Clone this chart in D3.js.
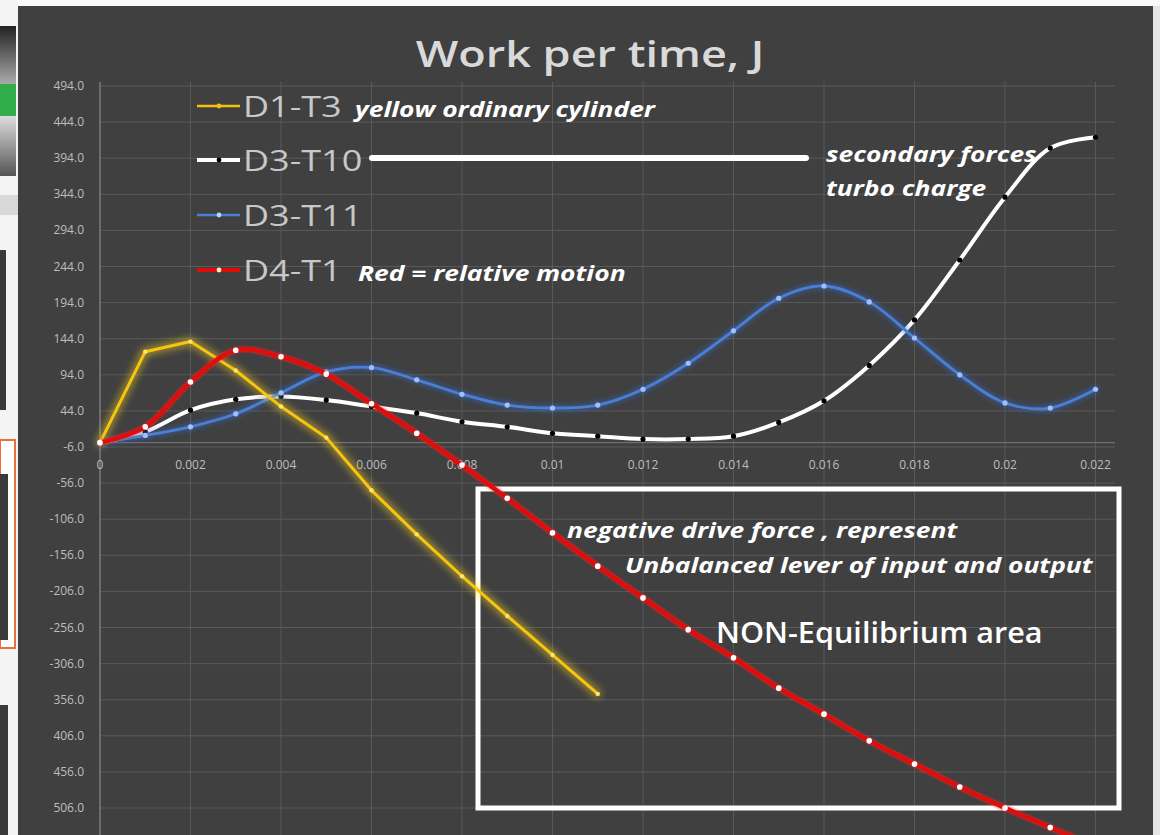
<!DOCTYPE html>
<html>
<head>
<meta charset="utf-8">
<script src="https://cdn.jsdelivr.net/npm/d3@7"></script>
<style>
  body { margin: 0; background: #f2f2f2; }
  svg { display: block; }
</style>
</head>
<body>
<div id="graph"></div>
<script>
// Données
const timeSteps = [0, 0.001, 0.002, 0.003, 0.004, 0.005, 0.006, 0.007, 0.008, 0.009, 0.010,
  0.011, 0.012, 0.013, 0.014, 0.015, 0.016, 0.017, 0.018, 0.019, 0.020, 0.021, 0.022];

const d1t3 = [0, 126, 140, 100, 50, 7, -66, -127, -185, -240, -294, -348];
const d3t10 = [0, 15, 45, 60, 64, 59, 50, 41, 29, 22, 13, 9, 5, 5, 9, 28, 58, 107, 170, 253, 340, 408, 423];
const d3t11 = [0, 10, 22, 40, 69, 98, 104, 87, 67, 52, 48, 52, 74, 110, 155, 200, 217, 195, 145, 94, 55, 48, 74];
const d4t1 = [0, 22, 84, 128, 119, 95, 54, 13, -31, -77, -125, -171, -215, -259, -298, -340, -376, -413, -445, -477, -506, -533, -560];

const seriesNames = ["D1-T3", "D3-T10", "D3-T11", "D4-T1"];

const yTicks = [494, 444, 394, 344, 294, 244, 194, 144, 94, 44, -6, -56, -106, -156, -206, -256, -306, -356, -406, -456, -506];
const yTickLabels = ["494.0", "444.0", "394.0", "344.0", "294.0", "244.0", "194.0", "144.0", "94.0", "44.0",
  "-6.0", "-56.0", "-106.0", "-156.0", "-206.0", "-256.0", "-306.0", "356.0", "406.0", "456.0", "506.0"];

const xTicks = [0, 0.002, 0.004, 0.006, 0.008, 0.010, 0.012, 0.014, 0.016, 0.018, 0.020, 0.022];
const xTickLabels = ["0", "0.002", "0.004", "0.006", "0.008", "0.01", "0.012", "0.014", "0.016", "0.018", "0.02", "0.022"];

const W = 1160, H = 835;
const svg = d3.select("#graph").append("svg")
  .attr("width", W).attr("height", H)
  .style("font-family", "'Open Sans', sans-serif");

// Filtres de lueur
const defs = svg.append("defs");
function glow(id, color, dev, op) {
  const f = defs.append("filter").attr("id", id)
    .attr("x", "-20%").attr("y", "-20%").attr("width", "140%").attr("height", "140%");
  f.append("feGaussianBlur").attr("in", "SourceAlpha").attr("stdDeviation", dev).attr("result", "b");
  f.append("feFlood").attr("flood-color", color).attr("flood-opacity", op);
  f.append("feComposite").attr("in2", "b").attr("operator", "in").attr("result", "g");
  const m = f.append("feMerge");
  m.append("feMergeNode").attr("in", "g");
  m.append("feMergeNode").attr("in", "g");
  m.append("feMergeNode").attr("in", "SourceGraphic");
}
glow("glowYellow", "#ffd52a", 4, 0.7);
glow("glowBlue", "#3c6fd0", 3, 0.55);
glow("glowRed", "#ff3030", 1.5, 0.5);

// Bande gauche (fragments de l'interface)
const strip = svg.append("g");
strip.append("rect").attr("x", 0).attr("y", 0).attr("width", 18).attr("height", H).attr("fill", "#f4f4f4");
const grad = defs.append("linearGradient").attr("id", "gradDark").attr("x1", 0).attr("x2", 0).attr("y1", 0).attr("y2", 1);
grad.append("stop").attr("offset", "0%").attr("stop-color", "#222");
grad.append("stop").attr("offset", "100%").attr("stop-color", "#aaa");
const grad2 = defs.append("linearGradient").attr("id", "gradLight").attr("x1", 0).attr("x2", 0).attr("y1", 0).attr("y2", 1);
grad2.append("stop").attr("offset", "0%").attr("stop-color", "#ddd");
grad2.append("stop").attr("offset", "100%").attr("stop-color", "#555");
strip.append("rect").attr("x", 0).attr("y", 26).attr("width", 16).attr("height", 58).attr("fill", "url(#gradDark)");
strip.append("rect").attr("x", 0).attr("y", 84).attr("width", 16).attr("height", 32).attr("fill", "#2fae4a");
strip.append("rect").attr("x", 0).attr("y", 116).attr("width", 16).attr("height", 60).attr("fill", "url(#gradLight)");
strip.append("rect").attr("x", 0).attr("y", 195).attr("width", 18).attr("height", 20).attr("fill", "#d8d8d8");
strip.append("rect").attr("x", 0).attr("y", 250).attr("width", 6).attr("height", 160).attr("fill", "#3a3a3a");
strip.append("rect").attr("x", 0).attr("y", 440).attr("width", 15).attr("height", 208)
  .attr("fill", "#fff").attr("stroke", "#e8703a").attr("stroke-width", 2);
strip.append("rect").attr("x", 0).attr("y", 474).attr("width", 8).attr("height", 166).attr("fill", "#3a3a3a");
strip.append("rect").attr("x", 0).attr("y", 705).attr("width", 8).attr("height", 130).attr("fill", "#3a3a3a");

// Fond du graphique
svg.append("rect").attr("x", 18).attr("y", 6).attr("width", 1135).attr("height", H - 6).attr("fill", "#404040");
svg.append("rect").attr("x", 1153).attr("y", 0).attr("width", 7).attr("height", H).attr("fill", "#e6e6e6");
svg.append("rect").attr("x", 18).attr("y", 0).attr("width", 1142).attr("height", 6).attr("fill", "#fafafa");

// Échelles
const xScale = d3.scaleLinear().domain([0, 0.022]).range([100, 1095.5]);
const yScale = d3.scaleLinear().domain([-506, 494]).range([808, 86]);
const plotRight = 1115;

// Grille
const grid = svg.append("g");
grid.selectAll(".hgrid").data(yTicks).enter().append("line")
  .attr("x1", 100).attr("x2", plotRight)
  .attr("y1", d => yScale(d)).attr("y2", d => yScale(d))
  .attr("stroke", "#595959").attr("stroke-width", 1);
grid.selectAll(".vgrid").data(xTicks).enter().append("line")
  .attr("x1", d => xScale(d)).attr("x2", d => xScale(d))
  .attr("y1", 82).attr("y2", H)
  .attr("stroke", "#595959").attr("stroke-width", 1);

// Axes
svg.append("line").attr("x1", 100).attr("x2", 100).attr("y1", 82).attr("y2", H)
  .attr("stroke", "#8c8c8c").attr("stroke-width", 1);
svg.append("line").attr("x1", 100).attr("x2", plotRight)
  .attr("y1", yScale(0)).attr("y2", yScale(0))
  .attr("stroke", "#7a7a7a").attr("stroke-width", 1);

svg.append("g").selectAll("text").data(yTicks).enter().append("text")
  .attr("x", 84).attr("y", d => yScale(d) + 4)
  .attr("text-anchor", "end")
  .attr("fill", "#bdbdbd").style("font-size", "12px")
  .text((d, i) => yTickLabels[i]);

svg.append("g").selectAll("text").data(xTicks).enter().append("text")
  .attr("x", d => xScale(d)).attr("y", yScale(0) + 26)
  .attr("text-anchor", "middle")
  .attr("fill", "#bdbdbd").style("font-size", "12px")
  .text((d, i) => xTickLabels[i]);

// Texte étiré horizontalement (l'image source est élargie)
function wideText(x, y, txt, size, sx, opts) {
  const t = svg.append("text")
    .attr("transform", `translate(${x},${y}) scale(${sx},1)`)
    .attr("text-anchor", opts.anchor || "start")
    .attr("fill", opts.fill || "#ffffff")
    .style("font-size", size + "px")
    .style("font-weight", opts.weight || "400")
    .style("font-style", opts.italic ? "italic" : "normal")
    .text(txt);
  return t;
}

// Titre
wideText(590, 67, "Work per time, J", 36, 1.25, { anchor: "middle", fill: "#d9d9d9", weight: 600 });

// Cadre NON-Equilibrium
svg.append("rect").attr("x", 478).attr("y", 489).attr("width", 641).attr("height", 319)
  .attr("fill", "none").attr("stroke", "#ffffff").attr("stroke-width", 5);

// Séries
const series = [
  { name: seriesNames[1], values: d3t10, color: "#ffffff", width: 4, dot: "#000000", r: 2.6, filter: null, curve: d3.curveCatmullRom },
  { name: seriesNames[2], values: d3t11, color: "#4a7fd8", width: 2.8, dot: "#9fc0ff", r: 2.6, filter: "url(#glowBlue)", curve: d3.curveCatmullRom },
  { name: seriesNames[0], values: d1t3, color: "#f6c511", width: 3, dot: "#ffe36b", r: 2.2, filter: "url(#glowYellow)", curve: d3.curveLinear },
  { name: seriesNames[3], values: d4t1, color: "#e00a0a", width: 4.5, dot: "#ffffff", r: 2.8, filter: "url(#glowRed)", curve: d3.curveCatmullRom }
];

series.forEach(s => {
  const pts = s.values.map((v, i) => [timeSteps[i], v]);
  const g = svg.append("g").attr("filter", s.filter);
  g.append("path")
    .attr("d", d3.line().x(d => xScale(d[0])).y(d => yScale(d[1])).curve(s.curve)(pts))
    .attr("fill", "none").attr("stroke", s.color).attr("stroke-width", s.width)
    .attr("stroke-linejoin", "round").attr("stroke-linecap", "round");
  g.selectAll("circle").data(pts).enter().append("circle")
    .attr("cx", d => xScale(d[0])).attr("cy", d => yScale(d[1]))
    .attr("r", s.r).attr("fill", s.dot);
});

// Légende
const legendItems = [
  { name: seriesNames[0], y: 106, color: "#f4c20d", dot: "#f4c20d", width: 2.5 },
  { name: seriesNames[1], y: 160, color: "#ffffff", dot: "#000000", width: 4 },
  { name: seriesNames[2], y: 215, color: "#4a7fd8", dot: "#bcd2ff", width: 2.5 },
  { name: seriesNames[3], y: 270, color: "#e00a0a", dot: "#fff4c8", width: 4 }
];
legendItems.forEach(it => {
  svg.append("line").attr("x1", 197).attr("x2", 240).attr("y1", it.y).attr("y2", it.y)
    .attr("stroke", it.color).attr("stroke-width", it.width);
  svg.append("circle").attr("cx", 219).attr("cy", it.y).attr("r", 2.4).attr("fill", it.dot);
  wideText(243, it.y + 11, it.name, 30, 1.2, { fill: "#c8c8c8" });
});

// Annotations
const note = (x, y, txt) => wideText(x, y, txt, 22, 1.2, { weight: 700, italic: true });

note(355, 117, "yellow ordinary cylinder");
note(358, 281, "Red = relative motion");
note(826, 162, "secondary forces");
note(826, 196, "turbo charge");
note(567, 538, "negative drive force , represent");
note(625, 573, "Unbalanced lever of input and output");

svg.append("line").attr("x1", 372).attr("x2", 806).attr("y1", 158).attr("y2", 158)
  .attr("stroke", "#ffffff").attr("stroke-width", 6).attr("stroke-linecap", "round");

wideText(716, 643, "NON-Equilibrium area", 29, 1.055, { weight: 600 });
</script>
</body>
</html>
